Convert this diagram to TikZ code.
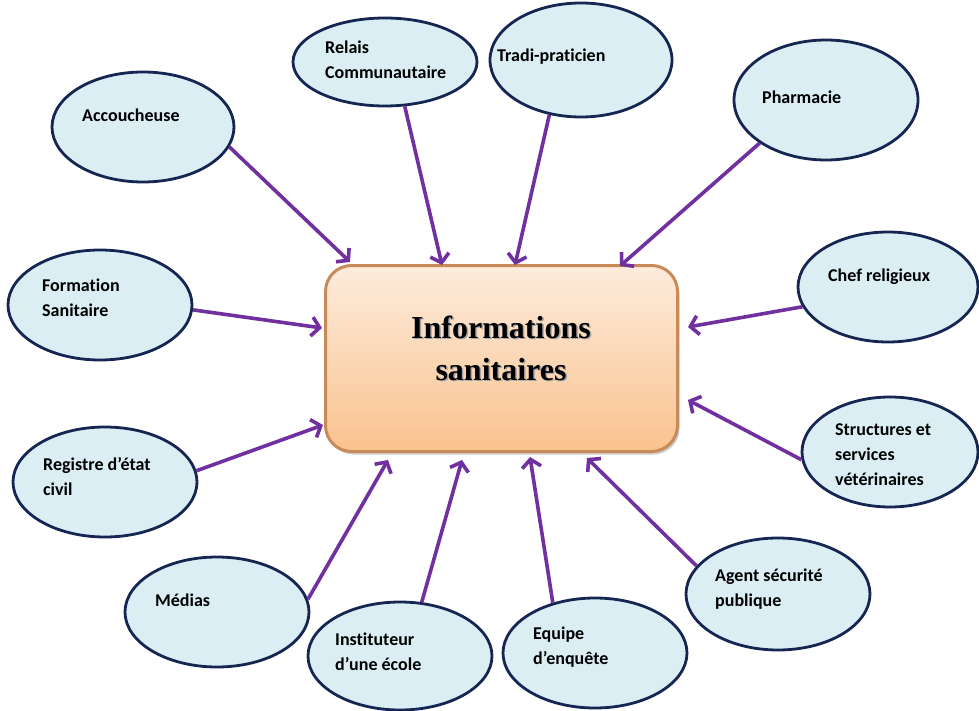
\documentclass[tikz,border=0pt]{standalone}
\usepackage{fontspec}
\setmainfont{Carlito}[Ligatures=NoCommon]
\newfontfamily\titlefont{Liberation Serif}
\usetikzlibrary{shapes.geometric,arrows.meta,shadows}
\definecolor{ellfill}{RGB}{218,238,244}
\definecolor{elldraw}{RGB}{22,38,82}
\definecolor{arrcol}{RGB}{112,48,160}
\definecolor{boxtop}{RGB}{253,236,220}
\definecolor{boxbot}{RGB}{249,194,142}
\definecolor{boxdraw}{RGB}{200,138,88}
\begin{document}
\begin{tikzpicture}[x=1pt,y=-1pt,
  bub/.style={ellipse,draw=elldraw,fill=ellfill,line width=2.8pt,inner sep=0pt},
  lbl/.style={anchor=west,inner sep=0pt,align=left,font=\bfseries\fontsize{18}{25}\selectfont,text=black},
  link/.style={draw=arrcol,line width=3.6pt,-{Straight Barb[length=8pt,width=19pt]}}]
\useasboundingbox (0,0) rectangle (979,711);
% central box
\node[draw=boxdraw,line width=3pt,rounded corners=26pt,top color=boxtop,bottom color=boxbot,
  minimum width=352pt,minimum height=186pt,
  drop shadow={shadow xshift=2pt,shadow yshift=-3pt,opacity=0.4}] (box) at (501.5,358.5) {};
\node[text=black!35,font=\titlefont\bfseries\fontsize{32}{42}\selectfont,align=center] (titleS) at (502.5,349.5) {Informations\\sanitaires};
\node[font=\titlefont\bfseries\fontsize{32}{42}\selectfont,align=center] (title) at (501,348) {Informations\\sanitaires};
% ellipses
\node[bub,minimum width=182pt,minimum height=110pt] (acc) at (143,127) {};
\node[bub,minimum width=184pt,minimum height=88pt] (rel) at (385,62) {};
\node[bub,minimum width=182pt,minimum height=114pt] (tra) at (581,60) {};
\node[bub,minimum width=184pt,minimum height=120pt] (pha) at (826,100) {};
\node[bub,minimum width=180pt,minimum height=110pt] (che) at (888,287) {};
\node[bub,minimum width=176pt,minimum height=110pt] (str) at (890,452) {};
\node[bub,minimum width=184pt,minimum height=110pt] (for) at (100,305) {};
\node[bub,minimum width=184pt,minimum height=110pt] (reg) at (105,482) {};
\node[bub,minimum width=184pt,minimum height=110pt] (med) at (217,612) {};
\node[bub,minimum width=184pt,minimum height=108pt] (ins) at (400,656) {};
\node[bub,minimum width=184pt,minimum height=110pt] (equ) at (595,653) {};
\node[bub,minimum width=184pt,minimum height=112pt] (age) at (778,594) {};
% labels
\node[lbl] (accT) at (82,115) {Accoucheuse};
\node[lbl] (relT) at (325,60) {Relais\\Communautaire};
\node[lbl] (traT) at (497,57) {Tradi-praticien};
\node[lbl] (phaT) at (762,97) {Pharmacie};
\node[lbl] (cheT) at (828,277) {Chef religieux};
\node[lbl] (strT) at (835,455) {Structures et\\services\\vétérinaires};
\node[lbl] (forT) at (42,298) {Formation\\Sanitaire};
\node[lbl] (regT) at (43,477) {Registre d’état\\civil};
\node[lbl] (medT) at (155,600) {Médias};
\node[lbl] (insT) at (335,652) {Instituteur\\d’une école};
\node[lbl] (equT) at (533,647) {Equipe\\d’enquête};
\node[lbl] (ageT) at (715,589) {Agent sécurité\\publique};
% arrow tips
\coordinate (tAcc) at (350,262);
\coordinate (tRel) at (442,265);
\coordinate (tTra) at (515,265);
\coordinate (tPha) at (620,266);
\coordinate (tChe) at (688,327);
\coordinate (tStr) at (688,400);
\coordinate (tFor) at (322,328);
\coordinate (tReg) at (323,425);
\coordinate (tMed) at (388,460);
\coordinate (tIns) at (462,460);
\coordinate (tEqu) at (530,457);
\coordinate (tAge) at (587,458);
% connectors
\draw[link] (acc.-13) -- (tAcc);
\draw[link] (rel.-66) -- (tRel);
\draw[link] (tra.-120) -- (tTra);
\draw[link] (pha.-147) -- (tPha);
\draw[link] (che.193) -- (tChe);
\draw[link] (str.185) -- (tStr);
\draw[link] (for.-3) -- (tFor);
\draw[link] (reg.7) -- (tReg);
\draw[link] (med.8) -- (tMed);
\draw[link] (ins.68) -- (tIns);
\draw[link] (equ.130) -- (tEqu);
\draw[link] (age.161) -- (tAge);
\end{tikzpicture}
\end{document}
